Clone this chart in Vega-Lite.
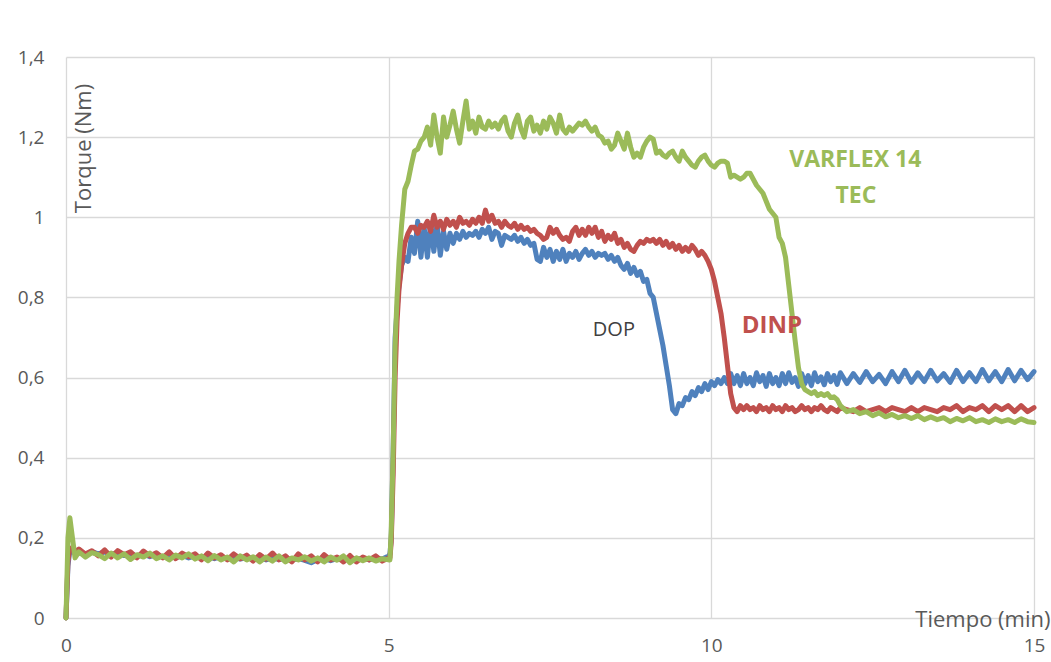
{
  "$schema": "https://vega.github.io/schema/vega-lite/v6.json",
  "width": 968,
  "height": 561,
  "autosize": {"type": "none"},
  "padding": {"left": 66, "top": 57, "right": 17, "bottom": 44},
  "background": "white",
  "config": {
    "view": {"stroke": null},
    "font": "Open Sans",
    "axis": {
      "grid": true, "gridColor": "#d9d9d9", "gridWidth": 1.3,
      "domain": false, "ticks": false,
      "labelFont": "Open Sans", "labelFontSize": 19, "labelColor": "#595959",
      "titleFont": "Open Sans", "titleFontSize": 22, "titleFontWeight": "normal", "titleColor": "#595959",
      "labelFlush": false, "labelOverlap": false
    }
  },
  "data": {"values": [
    {"t":0,"DOP":0,"DINP":0,"VAR":0},
    {"t":0.03,"DOP":0.13,"DINP":0.14,"VAR":0.2},
    {"t":0.06,"DOP":0.17,"DINP":0.175,"VAR":0.25},
    {"t":0.1,"DOP":0.165,"DINP":0.17,"VAR":0.2},
    {"t":0.14,"DOP":0.162,"DINP":0.165,"VAR":0.15},
    {"t":0.2,"DOP":0.163,"DINP":0.172,"VAR":0.165},
    {"t":0.3,"DOP":0.158,"DINP":0.16,"VAR":0.152},
    {"t":0.4,"DOP":0.166,"DINP":0.168,"VAR":0.163},
    {"t":0.5,"DOP":0.16,"DINP":0.155,"VAR":0.158},
    {"t":0.6,"DOP":0.165,"DINP":0.17,"VAR":0.148},
    {"t":0.7,"DOP":0.158,"DINP":0.152,"VAR":0.162},
    {"t":0.8,"DOP":0.163,"DINP":0.168,"VAR":0.15},
    {"t":0.9,"DOP":0.156,"DINP":0.158,"VAR":0.16},
    {"t":1.0,"DOP":0.16,"DINP":0.165,"VAR":0.146},
    {"t":1.1,"DOP":0.155,"DINP":0.15,"VAR":0.158},
    {"t":1.2,"DOP":0.16,"DINP":0.167,"VAR":0.152},
    {"t":1.3,"DOP":0.153,"DINP":0.155,"VAR":0.162},
    {"t":1.4,"DOP":0.158,"DINP":0.163,"VAR":0.148},
    {"t":1.5,"DOP":0.152,"DINP":0.15,"VAR":0.155},
    {"t":1.6,"DOP":0.157,"DINP":0.165,"VAR":0.145},
    {"t":1.7,"DOP":0.15,"DINP":0.148,"VAR":0.157},
    {"t":1.8,"DOP":0.156,"DINP":0.162,"VAR":0.15},
    {"t":1.9,"DOP":0.15,"DINP":0.153,"VAR":0.16},
    {"t":2.0,"DOP":0.155,"DINP":0.16,"VAR":0.147},
    {"t":2.1,"DOP":0.149,"DINP":0.145,"VAR":0.155},
    {"t":2.2,"DOP":0.154,"DINP":0.162,"VAR":0.143},
    {"t":2.3,"DOP":0.148,"DINP":0.15,"VAR":0.156},
    {"t":2.4,"DOP":0.153,"DINP":0.158,"VAR":0.145},
    {"t":2.5,"DOP":0.147,"DINP":0.145,"VAR":0.152},
    {"t":2.6,"DOP":0.152,"DINP":0.16,"VAR":0.14},
    {"t":2.7,"DOP":0.147,"DINP":0.148,"VAR":0.155},
    {"t":2.8,"DOP":0.151,"DINP":0.157,"VAR":0.145},
    {"t":2.9,"DOP":0.146,"DINP":0.142,"VAR":0.153},
    {"t":3.0,"DOP":0.15,"DINP":0.158,"VAR":0.14},
    {"t":3.1,"DOP":0.145,"DINP":0.147,"VAR":0.152},
    {"t":3.2,"DOP":0.15,"DINP":0.162,"VAR":0.142},
    {"t":3.3,"DOP":0.146,"DINP":0.145,"VAR":0.155},
    {"t":3.4,"DOP":0.149,"DINP":0.155,"VAR":0.14},
    {"t":3.5,"DOP":0.145,"DINP":0.14,"VAR":0.15},
    {"t":3.6,"DOP":0.148,"DINP":0.16,"VAR":0.145},
    {"t":3.7,"DOP":0.144,"DINP":0.145,"VAR":0.153},
    {"t":3.8,"DOP":0.138,"DINP":0.155,"VAR":0.142},
    {"t":3.9,"DOP":0.146,"DINP":0.14,"VAR":0.15},
    {"t":4.0,"DOP":0.148,"DINP":0.158,"VAR":0.14},
    {"t":4.1,"DOP":0.143,"DINP":0.145,"VAR":0.152},
    {"t":4.2,"DOP":0.148,"DINP":0.152,"VAR":0.144},
    {"t":4.3,"DOP":0.145,"DINP":0.14,"VAR":0.155},
    {"t":4.4,"DOP":0.15,"DINP":0.156,"VAR":0.138},
    {"t":4.5,"DOP":0.146,"DINP":0.14,"VAR":0.15},
    {"t":4.6,"DOP":0.149,"DINP":0.152,"VAR":0.143},
    {"t":4.7,"DOP":0.145,"DINP":0.145,"VAR":0.15},
    {"t":4.8,"DOP":0.15,"DINP":0.155,"VAR":0.142},
    {"t":4.9,"DOP":0.147,"DINP":0.142,"VAR":0.148},
    {"t":5.0,"DOP":0.155,"DINP":0.15,"VAR":0.145},
    {"t":5.02,"DOP":0.16,"DINP":0.15,"VAR":0.145},
    {"t":5.04,"DOP":0.2,"DINP":0.19,"VAR":0.22},
    {"t":5.07,"DOP":0.42,"DINP":0.36,"VAR":0.42},
    {"t":5.1,"DOP":0.7,"DINP":0.6,"VAR":0.68},
    {"t":5.13,"DOP":0.77,"DINP":0.74,"VAR":0.8},
    {"t":5.16,"DOP":0.83,"DINP":0.82,"VAR":0.89},
    {"t":5.2,"DOP":0.88,"DINP":0.88,"VAR":0.98},
    {"t":5.25,"DOP":0.9,"DINP":0.935,"VAR":1.07},
    {"t":5.3,"DOP":0.89,"DINP":0.96,"VAR":1.09},
    {"t":5.35,"DOP":0.95,"DINP":0.975,"VAR":1.13},
    {"t":5.4,"DOP":0.91,"DINP":0.975,"VAR":1.165},
    {"t":5.45,"DOP":0.99,"DINP":0.96,"VAR":1.17},
    {"t":5.5,"DOP":0.9,"DINP":0.98,"VAR":1.19},
    {"t":5.55,"DOP":0.975,"DINP":0.975,"VAR":1.2},
    {"t":5.6,"DOP":0.9,"DINP":0.99,"VAR":1.225},
    {"t":5.65,"DOP":0.985,"DINP":0.965,"VAR":1.18},
    {"t":5.7,"DOP":0.915,"DINP":1.005,"VAR":1.255},
    {"t":5.75,"DOP":0.985,"DINP":0.975,"VAR":1.2},
    {"t":5.8,"DOP":0.905,"DINP":0.99,"VAR":1.16},
    {"t":5.85,"DOP":0.965,"DINP":0.97,"VAR":1.25},
    {"t":5.9,"DOP":0.92,"DINP":0.995,"VAR":1.2},
    {"t":5.95,"DOP":0.96,"DINP":0.98,"VAR":1.23},
    {"t":6.0,"DOP":0.935,"DINP":0.99,"VAR":1.265},
    {"t":6.05,"DOP":0.96,"DINP":0.975,"VAR":1.22},
    {"t":6.1,"DOP":0.945,"DINP":1.0,"VAR":1.185},
    {"t":6.15,"DOP":0.965,"DINP":0.985,"VAR":1.24},
    {"t":6.2,"DOP":0.95,"DINP":0.99,"VAR":1.29},
    {"t":6.25,"DOP":0.96,"DINP":0.98,"VAR":1.22},
    {"t":6.3,"DOP":0.955,"DINP":0.995,"VAR":1.24},
    {"t":6.35,"DOP":0.965,"DINP":0.985,"VAR":1.21},
    {"t":6.4,"DOP":0.95,"DINP":1.0,"VAR":1.25},
    {"t":6.45,"DOP":0.97,"DINP":0.985,"VAR":1.225},
    {"t":6.5,"DOP":0.96,"DINP":1.018,"VAR":1.22},
    {"t":6.55,"DOP":0.975,"DINP":0.99,"VAR":1.24},
    {"t":6.6,"DOP":0.945,"DINP":1.005,"VAR":1.225},
    {"t":6.65,"DOP":0.965,"DINP":0.985,"VAR":1.235},
    {"t":6.7,"DOP":0.96,"DINP":0.99,"VAR":1.22},
    {"t":6.75,"DOP":0.93,"DINP":0.975,"VAR":1.24},
    {"t":6.8,"DOP":0.955,"DINP":0.99,"VAR":1.25},
    {"t":6.85,"DOP":0.95,"DINP":0.98,"VAR":1.215},
    {"t":6.9,"DOP":0.945,"DINP":0.975,"VAR":1.2},
    {"t":6.95,"DOP":0.955,"DINP":0.985,"VAR":1.235},
    {"t":7.0,"DOP":0.94,"DINP":0.97,"VAR":1.255},
    {"t":7.05,"DOP":0.95,"DINP":0.98,"VAR":1.22},
    {"t":7.1,"DOP":0.935,"DINP":0.97,"VAR":1.2},
    {"t":7.15,"DOP":0.945,"DINP":0.975,"VAR":1.24},
    {"t":7.2,"DOP":0.93,"DINP":0.965,"VAR":1.25},
    {"t":7.25,"DOP":0.935,"DINP":0.97,"VAR":1.215},
    {"t":7.3,"DOP":0.895,"DINP":0.96,"VAR":1.23},
    {"t":7.35,"DOP":0.89,"DINP":0.955,"VAR":1.21},
    {"t":7.4,"DOP":0.925,"DINP":0.945,"VAR":1.24},
    {"t":7.45,"DOP":0.9,"DINP":0.95,"VAR":1.22},
    {"t":7.5,"DOP":0.92,"DINP":0.975,"VAR":1.25},
    {"t":7.55,"DOP":0.89,"DINP":0.96,"VAR":1.235},
    {"t":7.6,"DOP":0.915,"DINP":0.97,"VAR":1.21},
    {"t":7.65,"DOP":0.895,"DINP":0.955,"VAR":1.255},
    {"t":7.7,"DOP":0.92,"DINP":0.945,"VAR":1.22},
    {"t":7.75,"DOP":0.89,"DINP":0.95,"VAR":1.21},
    {"t":7.8,"DOP":0.91,"DINP":0.94,"VAR":1.225},
    {"t":7.85,"DOP":0.9,"DINP":0.965,"VAR":1.215},
    {"t":7.9,"DOP":0.915,"DINP":0.975,"VAR":1.225},
    {"t":7.95,"DOP":0.895,"DINP":0.955,"VAR":1.235},
    {"t":8.0,"DOP":0.91,"DINP":0.97,"VAR":1.23},
    {"t":8.05,"DOP":0.92,"DINP":0.955,"VAR":1.24},
    {"t":8.1,"DOP":0.905,"DINP":0.975,"VAR":1.225},
    {"t":8.15,"DOP":0.915,"DINP":0.96,"VAR":1.215},
    {"t":8.2,"DOP":0.9,"DINP":0.975,"VAR":1.225},
    {"t":8.25,"DOP":0.91,"DINP":0.95,"VAR":1.205},
    {"t":8.3,"DOP":0.905,"DINP":0.965,"VAR":1.2},
    {"t":8.35,"DOP":0.91,"DINP":0.94,"VAR":1.185},
    {"t":8.4,"DOP":0.895,"DINP":0.955,"VAR":1.19},
    {"t":8.45,"DOP":0.905,"DINP":0.945,"VAR":1.17},
    {"t":8.5,"DOP":0.89,"DINP":0.96,"VAR":1.18},
    {"t":8.55,"DOP":0.9,"DINP":0.935,"VAR":1.21},
    {"t":8.6,"DOP":0.88,"DINP":0.945,"VAR":1.19},
    {"t":8.65,"DOP":0.87,"DINP":0.925,"VAR":1.17},
    {"t":8.7,"DOP":0.885,"DINP":0.935,"VAR":1.21},
    {"t":8.75,"DOP":0.86,"DINP":0.92,"VAR":1.175},
    {"t":8.8,"DOP":0.875,"DINP":0.915,"VAR":1.15},
    {"t":8.85,"DOP":0.855,"DINP":0.93,"VAR":1.16},
    {"t":8.9,"DOP":0.865,"DINP":0.94,"VAR":1.15},
    {"t":8.95,"DOP":0.84,"DINP":0.935,"VAR":1.175},
    {"t":9.0,"DOP":0.845,"DINP":0.945,"VAR":1.19},
    {"t":9.05,"DOP":0.81,"DINP":0.94,"VAR":1.2},
    {"t":9.1,"DOP":0.8,"DINP":0.945,"VAR":1.195},
    {"t":9.15,"DOP":0.76,"DINP":0.935,"VAR":1.16},
    {"t":9.2,"DOP":0.72,"DINP":0.945,"VAR":1.165},
    {"t":9.25,"DOP":0.68,"DINP":0.93,"VAR":1.155},
    {"t":9.3,"DOP":0.63,"DINP":0.94,"VAR":1.15},
    {"t":9.35,"DOP":0.58,"DINP":0.925,"VAR":1.16},
    {"t":9.4,"DOP":0.52,"DINP":0.935,"VAR":1.165},
    {"t":9.45,"DOP":0.51,"DINP":0.92,"VAR":1.15},
    {"t":9.5,"DOP":0.535,"DINP":0.93,"VAR":1.14},
    {"t":9.55,"DOP":0.53,"DINP":0.915,"VAR":1.165},
    {"t":9.6,"DOP":0.55,"DINP":0.925,"VAR":1.15},
    {"t":9.65,"DOP":0.545,"DINP":0.915,"VAR":1.14},
    {"t":9.7,"DOP":0.565,"DINP":0.93,"VAR":1.13},
    {"t":9.75,"DOP":0.555,"DINP":0.92,"VAR":1.125},
    {"t":9.8,"DOP":0.575,"DINP":0.905,"VAR":1.14},
    {"t":9.85,"DOP":0.565,"DINP":0.915,"VAR":1.15},
    {"t":9.9,"DOP":0.585,"DINP":0.905,"VAR":1.155},
    {"t":9.95,"DOP":0.57,"DINP":0.89,"VAR":1.14},
    {"t":10.0,"DOP":0.59,"DINP":0.87,"VAR":1.13},
    {"t":10.05,"DOP":0.58,"DINP":0.84,"VAR":1.125},
    {"t":10.1,"DOP":0.595,"DINP":0.8,"VAR":1.135},
    {"t":10.15,"DOP":0.585,"DINP":0.76,"VAR":1.14},
    {"t":10.2,"DOP":0.6,"DINP":0.7,"VAR":1.14},
    {"t":10.25,"DOP":0.585,"DINP":0.63,"VAR":1.135},
    {"t":10.3,"DOP":0.61,"DINP":0.56,"VAR":1.1},
    {"t":10.35,"DOP":0.585,"DINP":0.525,"VAR":1.105},
    {"t":10.4,"DOP":0.605,"DINP":0.515,"VAR":1.1},
    {"t":10.45,"DOP":0.58,"DINP":0.53,"VAR":1.095},
    {"t":10.5,"DOP":0.61,"DINP":0.52,"VAR":1.1},
    {"t":10.55,"DOP":0.585,"DINP":0.53,"VAR":1.11},
    {"t":10.6,"DOP":0.6,"DINP":0.52,"VAR":1.11},
    {"t":10.65,"DOP":0.58,"DINP":0.525,"VAR":1.095},
    {"t":10.7,"DOP":0.612,"DINP":0.515,"VAR":1.08},
    {"t":10.75,"DOP":0.59,"DINP":0.53,"VAR":1.07},
    {"t":10.8,"DOP":0.605,"DINP":0.52,"VAR":1.06},
    {"t":10.85,"DOP":0.578,"DINP":0.525,"VAR":1.04},
    {"t":10.9,"DOP":0.61,"DINP":0.515,"VAR":1.02},
    {"t":10.95,"DOP":0.585,"DINP":0.53,"VAR":1.01},
    {"t":11.0,"DOP":0.6,"DINP":0.52,"VAR":1.0},
    {"t":11.05,"DOP":0.58,"DINP":0.525,"VAR":0.95},
    {"t":11.1,"DOP":0.61,"DINP":0.515,"VAR":0.935},
    {"t":11.15,"DOP":0.585,"DINP":0.53,"VAR":0.9},
    {"t":11.2,"DOP":0.612,"DINP":0.52,"VAR":0.83},
    {"t":11.25,"DOP":0.588,"DINP":0.525,"VAR":0.76},
    {"t":11.3,"DOP":0.6,"DINP":0.515,"VAR":0.69},
    {"t":11.35,"DOP":0.578,"DINP":0.52,"VAR":0.625},
    {"t":11.4,"DOP":0.61,"DINP":0.53,"VAR":0.585},
    {"t":11.45,"DOP":0.585,"DINP":0.52,"VAR":0.57},
    {"t":11.5,"DOP":0.605,"DINP":0.525,"VAR":0.565},
    {"t":11.55,"DOP":0.58,"DINP":0.515,"VAR":0.56},
    {"t":11.6,"DOP":0.612,"DINP":0.525,"VAR":0.565},
    {"t":11.65,"DOP":0.59,"DINP":0.52,"VAR":0.555},
    {"t":11.7,"DOP":0.602,"DINP":0.53,"VAR":0.56},
    {"t":11.75,"DOP":0.582,"DINP":0.52,"VAR":0.555},
    {"t":11.8,"DOP":0.61,"DINP":0.515,"VAR":0.56},
    {"t":11.85,"DOP":0.59,"DINP":0.525,"VAR":0.55},
    {"t":11.9,"DOP":0.605,"DINP":0.52,"VAR":0.552},
    {"t":11.95,"DOP":0.583,"DINP":0.515,"VAR":0.545},
    {"t":12.0,"DOP":0.612,"DINP":0.525,"VAR":0.53},
    {"t":12.1,"DOP":0.585,"DINP":0.52,"VAR":0.515},
    {"t":12.2,"DOP":0.61,"DINP":0.515,"VAR":0.52},
    {"t":12.3,"DOP":0.588,"DINP":0.525,"VAR":0.51},
    {"t":12.4,"DOP":0.615,"DINP":0.515,"VAR":0.515},
    {"t":12.5,"DOP":0.59,"DINP":0.52,"VAR":0.505},
    {"t":12.6,"DOP":0.608,"DINP":0.525,"VAR":0.512},
    {"t":12.7,"DOP":0.585,"DINP":0.515,"VAR":0.502},
    {"t":12.8,"DOP":0.615,"DINP":0.525,"VAR":0.508},
    {"t":12.9,"DOP":0.59,"DINP":0.52,"VAR":0.5},
    {"t":13.0,"DOP":0.618,"DINP":0.515,"VAR":0.505},
    {"t":13.1,"DOP":0.588,"DINP":0.525,"VAR":0.498},
    {"t":13.2,"DOP":0.612,"DINP":0.515,"VAR":0.505},
    {"t":13.3,"DOP":0.59,"DINP":0.525,"VAR":0.495},
    {"t":13.4,"DOP":0.618,"DINP":0.52,"VAR":0.502},
    {"t":13.5,"DOP":0.592,"DINP":0.515,"VAR":0.495},
    {"t":13.6,"DOP":0.61,"DINP":0.525,"VAR":0.5},
    {"t":13.7,"DOP":0.588,"DINP":0.52,"VAR":0.49},
    {"t":13.8,"DOP":0.618,"DINP":0.53,"VAR":0.498},
    {"t":13.9,"DOP":0.59,"DINP":0.515,"VAR":0.492},
    {"t":14.0,"DOP":0.612,"DINP":0.525,"VAR":0.5},
    {"t":14.1,"DOP":0.59,"DINP":0.52,"VAR":0.49},
    {"t":14.2,"DOP":0.62,"DINP":0.53,"VAR":0.495},
    {"t":14.3,"DOP":0.592,"DINP":0.515,"VAR":0.488},
    {"t":14.4,"DOP":0.615,"DINP":0.53,"VAR":0.497},
    {"t":14.5,"DOP":0.59,"DINP":0.52,"VAR":0.49},
    {"t":14.6,"DOP":0.62,"DINP":0.53,"VAR":0.495},
    {"t":14.7,"DOP":0.592,"DINP":0.515,"VAR":0.488},
    {"t":14.8,"DOP":0.618,"DINP":0.53,"VAR":0.497},
    {"t":14.9,"DOP":0.595,"DINP":0.515,"VAR":0.49},
    {"t":15.0,"DOP":0.615,"DINP":0.525,"VAR":0.488}
  ]},
  "encoding": {
    "x": {
      "field": "t", "type": "quantitative",
      "scale": {"domain": [0, 15], "nice": false, "zero": false},
      "axis": {
        "values": [0, 5, 10, 15], "labelPadding": 18,
        "title": "Tiempo (min)", "titleX": 984, "titleY": 1,
        "titleAlign": "right", "titleBaseline": "middle", "titleAnchor": null
      }
    }
  },
  "layer": [
    {
      "mark": {"type": "line", "color": "#4f81bd", "strokeWidth": 5, "strokeJoin": "round", "strokeCap": "round"},
      "encoding": {
        "y": {
          "field": "DOP", "type": "quantitative",
          "scale": {"domain": [0, 1.4], "nice": false},
          "axis": {
            "values": [0, 0.2, 0.4, 0.6, 0.8, 1, 1.2, 1.4],
            "labelExpr": "replace(format(datum.value, '~g'), '.', ',')",
            "labelPadding": 22,
            "title": "Torque (Nm)", "titleX": 17, "titleY": 91,
            "titleAngle": -90, "titleAlign": "center", "titleBaseline": "middle", "titleAnchor": null
          }
        }
      }
    },
    {
      "mark": {"type": "line", "color": "#c0504d", "strokeWidth": 5, "strokeJoin": "round", "strokeCap": "round"},
      "encoding": {"y": {"field": "DINP", "type": "quantitative"}}
    },
    {
      "mark": {"type": "line", "color": "#9bbb59", "strokeWidth": 5, "strokeJoin": "round", "strokeCap": "round"},
      "encoding": {"y": {"field": "VAR", "type": "quantitative"}}
    },
    {
      "data": {"values": [{"t": 8.49, "v": 0.719, "label": "DOP"}]},
      "mark": {"type": "text", "font": "Open Sans", "fontSize": 20, "color": "#404040", "align": "center", "baseline": "middle"},
      "encoding": {
        "x": {"field": "t", "type": "quantitative"},
        "y": {"field": "v", "type": "quantitative"},
        "text": {"field": "label"}
      }
    },
    {
      "data": {"values": [{"t": 10.94, "v": 0.729, "label": "DINP"}]},
      "mark": {"type": "text", "font": "Open Sans", "fontSize": 24, "fontWeight": "bold", "color": "#c0504d", "align": "center", "baseline": "middle"},
      "encoding": {
        "x": {"field": "t", "type": "quantitative"},
        "y": {"field": "v", "type": "quantitative"},
        "text": {"field": "label"}
      }
    },
    {
      "data": {"values": [
        {"t": 12.23, "v": 1.143, "label": "VARFLEX 14"},
        {"t": 12.24, "v": 1.054, "label": "TEC"}
      ]},
      "mark": {"type": "text", "font": "Open Sans", "fontSize": 23, "fontWeight": "bold", "color": "#9bbb59", "align": "center", "baseline": "middle"},
      "encoding": {
        "x": {"field": "t", "type": "quantitative"},
        "y": {"field": "v", "type": "quantitative"},
        "text": {"field": "label"}
      }
    }
  ]
}
